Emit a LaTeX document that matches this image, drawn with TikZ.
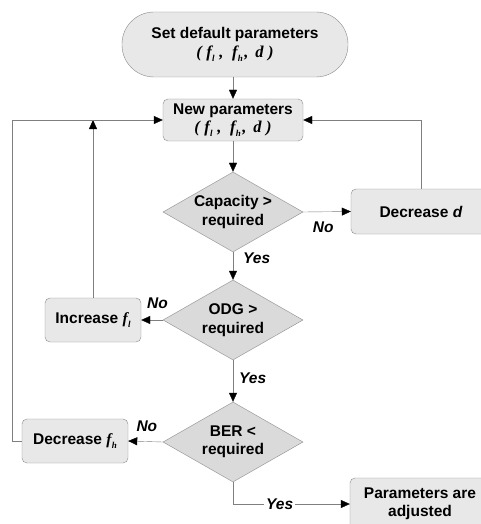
\documentclass[tikz,border=0pt]{standalone}
\usepackage{fontspec}
\setmainfont{Liberation Sans}
\newfontfamily\tmsfont{Liberation Serif}
\usetikzlibrary{arrows.meta,shapes.geometric,calc}
\definecolor{flowFill}{HTML}{E8E8E8}
\definecolor{flowDiam}{HTML}{DADADA}
\definecolor{flowEdge}{HTML}{8A8A8A}
\definecolor{flowLine}{HTML}{7F7F7F}
\newcommand{\fsub}[1]{{\tmsfont\bfseries\itshape f\kern0.3pt\raisebox{-0.25em}{\fontsize{9}{9}\selectfont #1}}}
\newcommand{\fparams}{{\fontsize{16.5}{18.5}\selectfont\tmsfont\itshape (\;\fsub{l}\;,\; \fsub{h}\kern1.5pt, \,d\;)}}

\begin{document}
\begin{tikzpicture}[x=1pt,y=-1pt,font=\fontsize{15.5}{18.5}\selectfont\bfseries]
    \tikzset{
      box/.style={draw=flowEdge,fill=flowFill,rounded corners=5pt,align=center,inner sep=0pt},
      test/.style={diamond,draw=flowEdge,fill=flowDiam,aspect=1.75,inner sep=0pt,minimum width=140pt,minimum height=80pt,align=center},
      flow/.style={draw=flowLine,-{Triangle[length=9pt,width=8pt,black]}},
      ans/.style={font=\fontsize{15.5}{18.5}\selectfont\bfseries\itshape,inner sep=2pt}
    }
    \useasboundingbox (0,0) rectangle (481,524);
    \node[box,rounded corners=32pt,minimum width=226pt,minimum height=65pt] (start) at (235,44.5)
      {Set default parameters\\[1pt] \fparams};
    \node[box,minimum width=140pt,minimum height=42pt] (newp) at (233,120)
      {New parameters\\ \fparams};
    \node[test] (cap) at (233,212) {Capacity >\\ required};
    \node[box,minimum width=140pt,minimum height=45pt] (decd) at (421,211.5) {Decrease \textit{d}};
    \node[test] (odg) at (233,320) {ODG >\\ required};
    \node[box,minimum width=96pt,minimum height=44pt] (incfl) at (93,320) {Increase \fsub{l}};
    \node[test] (ber) at (233,442) {BER <\\ required};
    \node[box,minimum width=106pt,minimum height=44pt] (decfh) at (75,441) {Decrease \fsub{h}};
    \node[box,minimum width=140pt,minimum height=52pt] (adj) at (420,504) {Parameters are\\ adjusted};
    % main column
    \draw[flow] (newp.north |- start.south) -- (newp.north);
    \draw[flow] (newp) -- (cap);
    \draw[flow] (cap) -- (odg) node[ans,pos=0.21,right=8pt]{Yes};
    \draw[flow] (odg) -- (ber) node[ans,pos=0.43,right=4pt]{Yes};
    \draw[flow] (ber.south) |- (adj.west) node[ans,pos=0.7,fill=white]{Yes};
    % "No" branches
    \draw[flow] (cap.east) -- (decd.west) node[ans,pos=0.42,below=8pt]{No};
    \draw[flow] (odg.west) -- (incfl.east) node[ans,pos=0.25,above=9pt]{No};
    \draw[flow] (ber.west) -- (decfh.east) node[ans,pos=0.46,above=8pt]{No};
    % feedback loops
    \draw[flow] (decd.north) |- (newp.east);
    \draw[flow] (incfl.north) -- (incfl.north |- newp.west);
    \draw[flow] (decfh.west) -- ++(-10,0) |- (newp.west);
\end{tikzpicture}
\end{document}
